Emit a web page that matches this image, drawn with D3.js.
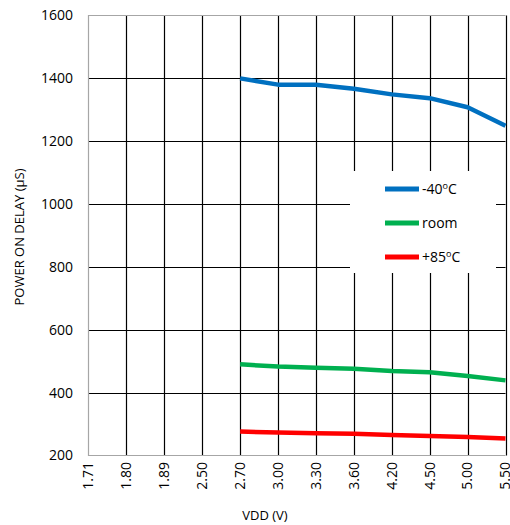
<!DOCTYPE html>
<html>
<head>
<meta charset="utf-8">
<script src="https://cdn.jsdelivr.net/npm/d3@7"></script>
<style>
  body { margin: 0; background: #fff; }
  text { font-family: "Open Sans", sans-serif; fill: #000; }
</style>
</head>
<body>
<div id="chart"></div>
<script>
"use strict";

// Power on delay vs VDD

var vddTicks = ["1.71", "1.80", "1.89", "2.50", "2.70", "3.00", "3.30", "3.60", "4.20", "4.50", "5.00", "5.50"];
var lineVdd = ["2.70", "3.00", "3.30", "3.60", "4.20", "4.50", "5.00", "5.50"];
var coldDelay = [1400, 1380, 1380, 1367, 1349, 1337, 1308, 1249];
var roomDelay = [490, 483, 479, 476, 469, 465, 453, 439];
var hotDelay = [276, 273, 271, 269, 265, 262, 259, 254];
var yTicks = [200, 400, 600, 800, 1000, 1200, 1400, 1600];
var seriesNames = ["-40", "room", "+85"];
var seriesColors = ["#0070c0", "#00b050", "#ff0000"];

var WIDTH = 510;
var HEIGHT = 525;
var LEFT = 88.5;
var RIGHT = 505.5;
var TOP = 15.5;
var BOTTOM = 455.5;

var svg = d3.select("#chart").append("svg")
    .attr("width", WIDTH)
    .attr("height", HEIGHT);

var scaleX = d3.scalePoint().domain(vddTicks).range([LEFT, RIGHT]).padding(0);
var scaleY = d3.scaleLinear().domain([200, 1600]).range([BOTTOM, TOP]);

// gridlines
yTicks.slice(1, -1).forEach(function (t) {
    svg.append("line")
        .attr("x1", LEFT).attr("x2", RIGHT)
        .attr("y1", Math.round(scaleY(t)) + 0.5).attr("y2", Math.round(scaleY(t)) + 0.5)
        .attr("stroke", "#000").attr("stroke-width", 1.2);
});
vddTicks.slice(1).forEach(function (v) {
    var x = Math.round(scaleX(v)) + 0.5;
    svg.append("line")
        .attr("x1", x).attr("x2", x)
        .attr("y1", TOP).attr("y2", BOTTOM)
        .attr("stroke", "#000").attr("stroke-width", 1.2);
});

// border (left, top, bottom in gray)
svg.append("path")
    .attr("d", "M" + RIGHT + "," + TOP + "H" + LEFT + "V" + BOTTOM + "H" + RIGHT)
    .attr("fill", "none")
    .attr("stroke", "#a6a6a6")
    .attr("stroke-width", 1.2);

// y tick labels
yTicks.forEach(function (t) {
    svg.append("text")
        .attr("x", 73)
        .attr("y", scaleY(t))
        .attr("dy", "0.35em")
        .attr("text-anchor", "end")
        .style("font-size", "14px")
        .text(t);
});

// x tick labels
vddTicks.forEach(function (v) {
    svg.append("text")
        .attr("transform", "translate(" + scaleX(v) + ",462) rotate(-90)")
        .attr("dy", "0.35em")
        .attr("text-anchor", "end")
        .style("font-size", "14px")
        .text(v);
});

// axis titles
svg.append("text")
    .attr("x", 265)
    .attr("y", 520)
    .attr("text-anchor", "middle")
    .style("font-size", "13px")
    .text("VDD (V)");

svg.append("text")
    .attr("transform", "translate(24,237) rotate(-90)")
    .attr("text-anchor", "middle")
    .style("font-size", "13px")
    .text("POWER ON DELAY (µS)");

// series lines
var lineGen = d3.line()
    .x(function (d) { return scaleX(d.x); })
    .y(function (d) { return scaleY(d.y); });

[coldDelay, roomDelay, hotDelay].forEach(function (vals, i) {
    var pts = lineVdd.map(function (v, j) { return { x: v, y: vals[j] }; });
    svg.append("path")
        .attr("d", lineGen(pts))
        .attr("fill", "none")
        .attr("stroke", seriesColors[i])
        .attr("stroke-width", 4.5)
        .attr("stroke-linejoin", "round");
});

// legend
var legend = svg.append("g");
legend.append("rect")
    .attr("x", 350).attr("y", 171)
    .attr("width", 146).attr("height", 102)
    .attr("fill", "#fff");

seriesNames.forEach(function (name, i) {
    var y = 189 + i * 34;
    legend.append("line")
        .attr("x1", 385).attr("x2", 419)
        .attr("y1", y).attr("y2", y)
        .attr("stroke", seriesColors[i])
        .attr("stroke-width", 5);
    var t = legend.append("text")
        .attr("x", 422)
        .attr("y", y)
        .attr("dy", "0.35em")
        .style("font-size", "14px");
    if (name == "room") {
        t.text(name);
    } else {
        t.append("tspan").text(name);
        t.append("tspan").attr("dy", "-5").style("font-size", "9px").text("o");
        t.append("tspan").attr("dy", "5").text("C");
    }
});
</script>
</body>
</html>
